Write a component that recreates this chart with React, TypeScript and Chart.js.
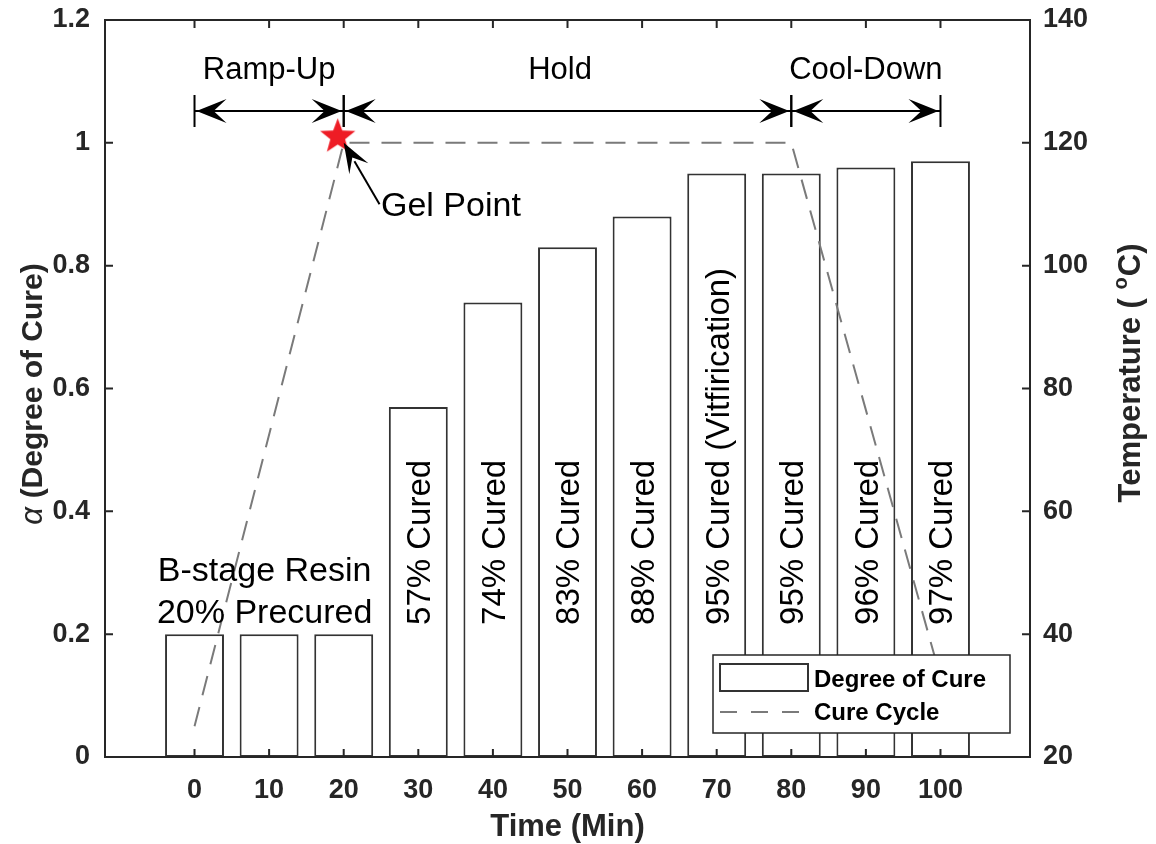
import React, { useEffect, useRef } from 'react';
import { Chart, registerables } from 'chart.js';

Chart.register(...registerables);

// ---- data ----
const timeMin = [0, 10, 20, 30, 40, 50, 60, 70, 80, 90, 100];
const degreeOfCure = [0.2, 0.2, 0.2, 0.57, 0.74, 0.83, 0.88, 0.95, 0.95, 0.96, 0.97];
const barLabels = ['', '', '', '57% Cured', '74% Cured', '83% Cured', '88% Cured', '95% Cured (Vitfirication)', '95% Cured', '96% Cured', '97% Cured'];
const cycleTime = [0, 20, 80, 100];
const cycleTemp = [25, 120, 120, 33];
const gelTime = [19.2];
const gelCure = [1.01];
const phaseNames = ['Ramp-Up', 'Hold', 'Cool-Down'];
const phaseStart = [0, 20, 80];
const phaseEnd = [20, 80, 100];
const phaseLabelTime = [10, 49, 90];
const xTicks = [0, 10, 20, 30, 40, 50, 60, 70, 80, 90, 100];
const cureTicks = [0, 0.2, 0.4, 0.6, 0.8, 1, 1.2];
const tempTicks = [20, 40, 60, 80, 100, 120, 140];
const precureLines = ['B-stage Resin', '20% Precured'];

// ---- annotation anchors (data coordinates) ----
const phaseArrowCure = 1.052;
const phaseLabelCure = 1.104;
const precureTime = 9.4;
const precureCure = [0.2866, 0.218];
const barLabelStartCure = 0.215;
const gelArrowFrom = [24.8, 0.9];
const gelArrowTo = [20, 1.0];
const gelLabelAt = [25.0, 0.881];

// ---- styles ----
const FONT = '"Liberation Sans", Arial, Helvetica, sans-serif';
const AXIS = '#262626';
const TICK = 8;

function makeStar(r: number, color: string) {
  const c = document.createElement('canvas');
  const size = Math.ceil(r * 2 + 4);
  c.width = size;
  c.height = size;
  const g = c.getContext('2d')!;
  g.beginPath();
  for (let i = 0; i < 10; i++) {
    const ang = -Math.PI / 2 + (i * Math.PI) / 5;
    const rr = i % 2 === 0 ? r : r * 0.42;
    g.lineTo(size / 2 + rr * Math.cos(ang), size / 2 + rr * Math.sin(ang));
  }
  g.closePath();
  g.fillStyle = color;
  g.fill();
  return c;
}

function arrowHead(ctx: CanvasRenderingContext2D, tx: number, ty: number, dx: number, dy: number, L = 30, W = 12) {
  const len = Math.hypot(dx, dy);
  const ux = dx / len, uy = dy / len;
  const nx = -uy, ny = ux;
  const bx = tx - ux * L, by = ty - uy * L;
  ctx.beginPath();
  ctx.moveTo(tx, ty);
  ctx.lineTo(bx + nx * W, by + ny * W);
  ctx.lineTo(tx - ux * L * 0.57, ty - uy * L * 0.57);
  ctx.lineTo(bx - nx * W, by - ny * W);
  ctx.closePath();
  ctx.fill();
}

const annotationPlugin = {
  id: 'cureAnnotations',
  afterDraw(chart: any) {
    const { ctx, chartArea: a, scales } = chart;
    const sx = scales.x, sy = scales.y, sy1 = scales.y1;
    const px = (v: number) => sx.getPixelForValue(v);
    const py = (v: number) => sy.getPixelForValue(v);
    ctx.save();

    // frame + inner ticks
    ctx.strokeStyle = AXIS;
    ctx.lineWidth = 2;
    ctx.strokeRect(a.left, a.top, a.right - a.left, a.bottom - a.top);
    ctx.beginPath();
    sx.ticks.forEach((t: any) => {
      const p = px(t.value);
      ctx.moveTo(p, a.bottom); ctx.lineTo(p, a.bottom - TICK);
      ctx.moveTo(p, a.top); ctx.lineTo(p, a.top + TICK);
    });
    sy.ticks.forEach((t: any) => {
      const p = py(t.value);
      ctx.moveTo(a.left, p); ctx.lineTo(a.left + TICK, p);
    });
    sy1.ticks.forEach((t: any) => {
      const p = sy1.getPixelForValue(t.value);
      ctx.moveTo(a.right, p); ctx.lineTo(a.right - TICK, p);
    });
    ctx.stroke();

    // phase arrows
    ctx.fillStyle = '#000';
    ctx.strokeStyle = '#000';
    ctx.lineWidth = 2;
    ctx.textBaseline = 'alphabetic';
    const ay = py(phaseArrowCure);
    phaseNames.forEach((name, i) => {
      const x1 = px(phaseStart[i]);
      const x2 = px(phaseEnd[i]);
      ctx.beginPath();
      ctx.moveTo(x1, ay); ctx.lineTo(x2, ay);
      ctx.moveTo(x1, ay - 16); ctx.lineTo(x1, ay + 16);
      ctx.moveTo(x2, ay - 16); ctx.lineTo(x2, ay + 16);
      ctx.stroke();
      arrowHead(ctx, x1 + 2, ay, -1, 0);
      arrowHead(ctx, x2 - 2, ay, 1, 0);
      ctx.font = `31px ${FONT}`;
      ctx.textAlign = 'center';
      ctx.fillText(name, px(phaseLabelTime[i]), py(phaseLabelCure));
    });

    // precure text
    ctx.font = `34px ${FONT}`;
    ctx.textAlign = 'center';
    precureLines.forEach((line, i) => {
      ctx.fillText(line, px(precureTime), py(precureCure[i]));
    });

    // rotated bar labels
    ctx.font = `33px ${FONT}`;
    barLabels.forEach((lab, i) => {
      if (!lab) return;
      ctx.save();
      ctx.translate(px(timeMin[i]) + 0.36 * 33, py(barLabelStartCure));
      ctx.rotate(-Math.PI / 2);
      ctx.textAlign = 'left';
      ctx.fillText(lab, 0, 0);
      ctx.restore();
    });

    // gel point arrow + label
    const fx = px(gelArrowFrom[0]), fy = py(gelArrowFrom[1]);
    const tx = px(gelArrowTo[0]), ty = py(gelArrowTo[1]);
    ctx.beginPath();
    ctx.moveTo(fx, fy);
    ctx.lineTo(tx + (fx - tx) * 0.3, ty + (fy - ty) * 0.3);
    ctx.stroke();
    arrowHead(ctx, tx, ty, tx - fx, ty - fy, 30, 11);
    ctx.font = `34px ${FONT}`;
    ctx.textAlign = 'left';
    ctx.fillText('Gel Point', px(gelLabelAt[0]), py(gelLabelAt[1]));

    // axis titles
    ctx.fillStyle = AXIS;
    ctx.font = `bold 31px ${FONT}`;
    ctx.textAlign = 'center';
    ctx.fillText('Time (Min)', (a.left + a.right) / 2, 836);

    // left title
    ctx.save();
    ctx.translate(42, 394);
    ctx.rotate(-Math.PI / 2);
    ctx.textAlign = 'left';
    ctx.font = `italic 31px ${FONT}`;
    const wA = ctx.measureText('\u03B1 ').width;
    ctx.font = `bold 30px ${FONT}`;
    const wRest = ctx.measureText('(Degree of Cure)').width;
    let start = -(wA + wRest) / 2;
    ctx.font = `italic 31px ${FONT}`;
    ctx.fillText('\u03B1 ', start, 0);
    ctx.font = `bold 30px ${FONT}`;
    ctx.fillText('(Degree of Cure)', start + wA, 0);
    ctx.restore();

    // right title
    ctx.save();
    ctx.translate(1140, 373);
    ctx.rotate(-Math.PI / 2);
    ctx.textAlign = 'left';
    ctx.font = `bold 31px ${FONT}`;
    const p1 = 'Temperature ( ';
    const p3 = 'C)';
    const w1 = ctx.measureText(p1).width;
    const w3 = ctx.measureText(p3).width;
    ctx.font = `bold 20px ${FONT}`;
    const w2 = ctx.measureText('o').width + 1;
    start = -(w1 + w2 + w3) / 2;
    ctx.font = `bold 31px ${FONT}`;
    ctx.fillText(p1, start, 0);
    ctx.font = `bold 20px ${FONT}`;
    ctx.fillText('o', start + w1, -13);
    ctx.font = `bold 31px ${FONT}`;
    ctx.fillText(p3, start + w1 + w2, 0);
    ctx.restore();

    // legend
    const lw = 297, lh = 78;
    const lx = a.right - 20 - lw, ly = a.bottom - 24 - lh;
    ctx.fillStyle = '#fff';
    ctx.fillRect(lx, ly, lw, lh);
    ctx.strokeStyle = AXIS;
    ctx.lineWidth = 1.5;
    ctx.strokeRect(lx, ly, lw, lh);
    const ds = chart.data.datasets;
    ctx.strokeStyle = '#333';
    ctx.lineWidth = 2;
    ctx.strokeRect(lx + 7, ly + 9, 88, 27);
    ctx.strokeStyle = ds[1].borderColor;
    ctx.setLineDash([17, 14]);
    ctx.beginPath();
    ctx.moveTo(lx + 7, ly + 57);
    ctx.lineTo(lx + 95, ly + 57);
    ctx.stroke();
    ctx.setLineDash([]);
    ctx.fillStyle = '#000';
    ctx.font = `bold 24px ${FONT}`;
    ctx.textAlign = 'left';
    ctx.fillText(ds[0].label, lx + 101, ly + 32);
    ctx.fillText(ds[1].label, lx + 101, ly + 65);

    ctx.restore();
  },
};

const noPad = (s: any) => {
  s.paddingTop = 0;
  s.paddingBottom = 0;
  s.paddingLeft = 0;
  s.paddingRight = 0;
};

export default function App() {
  const ref = useRef<HTMLCanvasElement>(null);
  useEffect(() => {
    if (!ref.current) return;
    const star = makeStar(18.5, '#ee1c25');
    const tickFont = { family: FONT, size: 27, weight: 'bold' as const };
    const chart = new Chart(ref.current, {
      type: 'bar',
      data: {
        datasets: [
          {
            type: 'bar',
            label: 'Degree of Cure',
            data: timeMin.map((t, i) => ({ x: t, y: degreeOfCure[i] })),
            backgroundColor: '#ffffff',
            borderColor: '#333333',
            borderWidth: 2,
            borderSkipped: false,
            barPercentage: 0.79,
            categoryPercentage: 1,
            xAxisID: 'x',
            yAxisID: 'y',
            order: 3,
          } as any,
          {
            type: 'line',
            label: 'Cure Cycle',
            data: cycleTime.map((t, i) => ({ x: t, y: cycleTemp[i] })),
            borderColor: '#7a7a7a',
            borderWidth: 2,
            borderDash: [20, 12],
            pointRadius: 0,
            tension: 0,
            fill: false,
            xAxisID: 'x',
            yAxisID: 'y1',
            order: 2,
          } as any,
          {
            type: 'line',
            label: 'Gel Point',
            data: gelTime.map((t, i) => ({ x: t, y: gelCure[i] })),
            showLine: false,
            pointStyle: star,
            pointRadius: 18,
            xAxisID: 'x',
            yAxisID: 'y',
            order: 1,
          } as any,
        ],
      },
      options: {
        animation: false,
        responsive: true,
        maintainAspectRatio: false,
        layout: { padding: { top: 20, left: 0, right: 0, bottom: 0 } },
        plugins: { legend: { display: false }, tooltip: { enabled: false } },
        events: [],
        scales: {
          x: {
            type: 'linear',
            min: -12,
            max: 112,
            offset: false,
            afterBuildTicks: (s: any) => { s.ticks = xTicks.map((v) => ({ value: v })); },
            afterFit: (s: any) => { s.height = 87; noPad(s); },
            grid: { display: false, drawTicks: false, offset: false },
            border: { display: false },
            ticks: { font: tickFont, color: AXIS, padding: 17, maxRotation: 0, autoSkip: false, callback: (v: any) => String(v) },
          },
          y: {
            type: 'linear',
            position: 'left',
            min: 0,
            max: 1.2,
            afterBuildTicks: (s: any) => { s.ticks = cureTicks.map((v) => ({ value: v })); },
            afterFit: (s: any) => { s.width = 105; noPad(s); },
            grid: { display: false, drawTicks: false },
            border: { display: false },
            ticks: { font: tickFont, color: AXIS, padding: 15, callback: (v: any) => String(v) },
          },
          y1: {
            type: 'linear',
            position: 'right',
            min: 20,
            max: 140,
            afterBuildTicks: (s: any) => { s.ticks = tempTicks.map((v) => ({ value: v })); },
            afterFit: (s: any) => { s.width = 126; noPad(s); },
            grid: { display: false, drawTicks: false },
            border: { display: false },
            ticks: { font: tickFont, color: AXIS, padding: 13, callback: (v: any) => String(v) },
          },
        },
      } as any,
      plugins: [annotationPlugin],
    });
    return () => chart.destroy();
  }, []);
  return (
    <div style={{ position: 'fixed', left: 0, top: 0, width: 1156, height: 844, background: '#fff' }}>
      <canvas ref={ref} />
    </div>
  );
}
